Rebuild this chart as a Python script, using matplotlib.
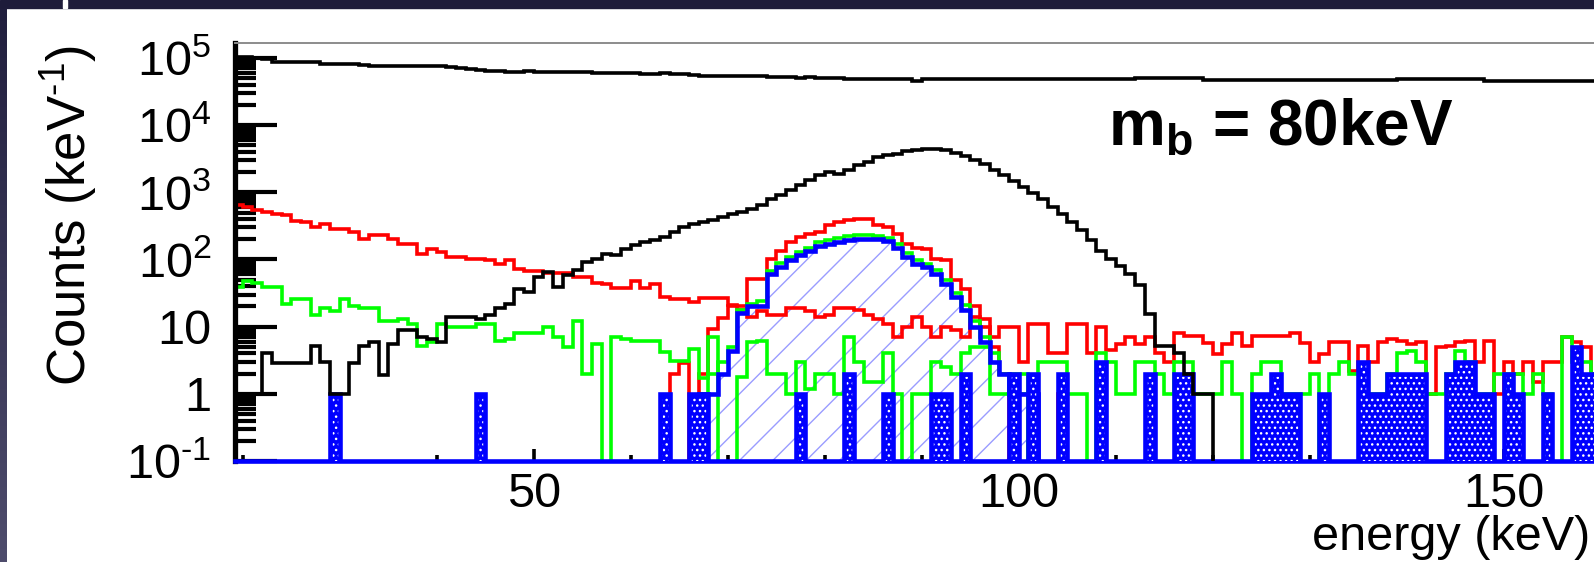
import numpy as np
import matplotlib.pyplot as plt
from matplotlib.patches import Rectangle
from matplotlib.colors import LinearSegmentedColormap
from matplotlib.ticker import FixedLocator, FuncFormatter, NullFormatter

plt.rcParams['font.family'] = ['Liberation Sans', 'DejaVu Sans']
plt.rcParams['mathtext.fontset'] = 'custom'
plt.rcParams['mathtext.rm'] = 'Liberation Sans'
plt.rcParams['mathtext.it'] = 'Liberation Sans:italic'
plt.rcParams['mathtext.bf'] = 'Liberation Sans:bold'
plt.rcParams['hatch.linewidth'] = 1.0

# histogram bins: 1 keV wide, lower edges 19..159
first_bin = 19
n_bins = 141

total = [104000, 103000, 101000, 98000,
         88000, 88000, 87000, 88000, 86000,
         82000, 81000, 81000, 80000, 79000,
         77000, 76000, 76000, 76000, 75000, 76000, 76000, 75000, 74000,
         72000, 68000, 66000, 64000, 63000,
         62000, 62000, 63000, 62000, 61000, 62000, 62000, 61000, 61000, 60000, 60000, 60000,
         59000, 59000, 58000, 58000, 59000, 58000, 57000,
         55000, 54000, 54000, 54000, 53000, 54000, 53000, 53000,
         52000, 52000, 52000, 51000, 52000, 51000, 50000,
         51000,
         48000, 48000, 48000, 48000, 48000, 48000, 48000, 46000, 48000, 48000,
         48000, 48000, 48000, 48000, 48000, 48000, 48000, 48000, 48000, 48000,
         48000, 48000, 48000, 48000, 48000, 48000, 48000, 48000, 48000, 48000,
         50000, 50000, 50000, 50000, 50000, 50000, 50000,
         47000, 47000, 47000, 47000, 47000, 47000, 47000, 47000, 47000, 47000,
         47000, 47000, 47000, 47000, 47000, 47000, 47000, 47000, 47000, 47000,
         49000, 49000, 49000, 49000, 49000, 49000, 49000, 49000, 49000,
         46000, 46000, 46000, 46000, 46000, 46000, 46000, 46000, 46000, 46000, 46000, 46000]

signal = [1, 1, 1, 4, 2.9, 2.9, 2.9, 2.9, 5.2, 3, 1, 1, 2.9, 5.2, 6, 1.9, 5.5, 9, 9, 7,
          6.5, 6, 14, 14, 14, 13, 15, 19, 22, 36, 33,
          54, 65, 39, 58, 69, 91, 102, 122, 115, 144, 162, 182, 192, 215, 256, 304,
          341, 361, 383, 429, 481, 510, 570, 640, 806, 900, 1070, 1270, 1510, 1790, 2000,
          1900, 2180, 2530, 2870, 3310, 3560, 3770, 4090, 4330, 4480, 4430, 4230, 3870,
          3490, 3010, 2630, 2170, 1790, 1480, 1210, 990, 806, 605, 481, 361, 272, 192,
          136, 102, 80, 61, 41, 15.5, 5.2, 5.2, 4, 2, 1, 1] + [0] * 40

red_bg = [640, 600, 540, 508, 480, 454, 380, 361, 304, 340, 287, 287, 256, 203, 228, 228,
          203, 171, 171, 122, 144, 129, 108, 108, 102, 102, 97, 86, 97, 73, 68,
          68, 62, 62, 62, 55, 55, 45, 43, 38, 38, 48, 37, 43, 28, 26, 26, 23, 27, 27, 27,
          21, 18, 14, 17, 15, 15, 19, 19, 17, 14,
          15, 19, 19, 18, 15, 13, 11, 7, 10, 14, 10, 7, 10, 9, 7, 14, 13, 7, 10, 10, 3,
          11, 11, 4, 4, 11, 11, 4, 10, 4.5, 5.5, 7,
          5.5, 7, 4, 3, 8, 7.3, 7.3, 5.8, 3.9, 5.5, 8, 5.2, 7.3, 7.3, 7.3, 7.3, 8, 5.8,
          3, 3.9, 6, 6, 2.2, 5.2, 3, 6, 6.5, 6.2,
          5.5, 6, 1, 5, 5.2, 6, 6.2, 3, 6.2, 1, 3, 2, 3, 1.5, 3, 3, 7, 6, 5, 2]

green_bg = [39, 48, 45, 39, 39, 22, 26, 26, 15, 19, 17, 26, 20, 19, 19, 12, 12, 13, 11,
            5.2, 6, 11, 10, 10, 10, 11, 11, 6.2, 6.5, 8, 8,
            8, 10, 7, 5, 12, 2, 5.5, 0, 7, 6.6, 6.2, 6.2, 6.2, 4.2, 3.1, 3.1, 4.7, 1.7, 6.9,
            0, 0,
            1.8, 6, 6.2, 2, 2, 1, 3, 1.2, 2,
            2, 1, 7, 3, 1.5, 1.5, 4, 1, 0, 1, 1, 3, 2.5, 2, 4, 5, 5, 1, 1, 2, 2, 0,
            3, 3, 3, 1, 1, 0, 4, 3, 1, 1,
            3, 3, 2, 1, 3, 3, 1, 1, 1, 3, 1, 0, 2, 3, 3, 1, 1, 1, 2, 0, 2, 3, 2, 2,
            1, 1, 2, 4,
            4.4, 3, 1, 1, 2, 4.4, 3, 1, 1, 2, 2, 2, 1, 2, 1, 0, 7, 3, 3, 2]

# peak histograms, starting bin then counts
red_peak_start = 63
red_peak = [0, 2, 2.9, 0, 2, 9.3, 13.6, 20, 20, 52, 52, 100, 136, 183, 215, 242, 256, 323,
            360, 390, 403, 403, 330, 300, 242, 170, 150, 144, 100, 97, 49, 36, 20,
            10, 5, 2, 0, 0, 0, 0, 0, 1]

green_peak_start = 66
green_peak = [0, 1, 2, 3, 5, 18, 22, 24, 68, 88, 110, 130, 150, 180, 195, 210, 220,
              228, 228, 225, 210, 170, 125, 98, 87, 70, 50, 32, 21, 12, 7, 4, 2, 1, 1]

blue_peak_start = 66
blue_peak = [0, 1, 1, 2, 4.4, 16, 20, 20, 60, 77, 97, 115, 136, 160, 170, 185, 195, 204,
             204, 200, 190, 150, 110, 86, 77, 61, 43, 28, 18, 10, 6, 3, 2, 1, 1, 1]

blue_bar_bins = [29, 44, 63, 66, 67, 77, 82, 86, 91, 92, 94, 99, 101, 104, 108, 113,
                 116, 117, 124, 125, 126, 127, 128, 131, 135, 136, 137, 138, 139, 140,
                 141, 144, 145, 146, 147, 148, 150, 151, 154, 157, 158, 159]
blue_bar_counts = [1, 1, 1, 1, 1, 1, 2, 1, 1, 1, 2, 2, 2, 2, 3, 2,
                   2, 2, 1, 1, 2, 1, 1, 1, 3, 1, 1, 2, 2, 2,
                   2, 2, 3, 3, 1, 1, 2, 1, 1, 5, 2, 2]


def full(start, counts):
    arr = np.zeros(n_bins)
    arr[start - first_bin:start - first_bin + len(counts)] = counts
    return arr


edges = np.arange(first_bin, first_bin + n_bins + 1)
floor = 1e-3

red_peak_h = full(red_peak_start, red_peak)
green_peak_h = full(green_peak_start, green_peak)
blue_peak_h = full(blue_peak_start, blue_peak)
bars_h = np.zeros(n_bins)
bars_h[np.array(blue_bar_bins) - first_bin] = blue_bar_counts

fig = plt.figure(figsize=(15.94, 5.62), dpi=100)

# slide border around the crop
fig.patches.append(Rectangle((0, 1 - 8 / 562), 1, 8 / 562, transform=fig.transFigure,
                             color='#1e1c3a', zorder=0))
fig.patches.append(Rectangle((63 / 1594, 1 - 8 / 562), 4 / 1594, 8 / 562,
                             transform=fig.transFigure, color='white', zorder=1))
bax = fig.add_axes([0, 0, 7 / 1594, 1 - 8 / 562])
grad = np.linspace(0, 1, 256).reshape(-1, 1)
cm = LinearSegmentedColormap.from_list('edge', ['#211f3e', '#4e4c6c'])
bax.imshow(grad, aspect='auto', cmap=cm, extent=[0, 1, 0, 1])
bax.axis('off')

# the frame runs on past the right edge of the crop
px_per_kev = 9.7
xmin, xmax = 19.2, 200
ax = fig.add_axes([235 / 1594, 101 / 562, (xmax - xmin) * px_per_kev / 1594, 418 / 562])
ax.set_yscale('log')
ax.set_xlim(xmin, xmax)
ax.set_ylim(0.1, 1.67e5)

lw = 2.6
blw = 3.3
# signal hatch
ax.bar(edges[:-1], np.clip(blue_peak_h, floor, None), width=1, align='edge', bottom=floor,
       facecolor='none', edgecolor='#9a9cff', hatch='/', linewidth=0, zorder=1)

ax.stairs(np.clip(red_bg, floor, None), edges, baseline=None, color='#ff0000', lw=lw, zorder=2)
ax.stairs(np.clip(red_peak_h, floor, None), edges, baseline=None, color='#ff0000', lw=lw, zorder=2)
ax.stairs(np.clip(green_bg, floor, None), edges, baseline=None, color='#00ff00', lw=lw, zorder=2.1)
ax.stairs(np.clip(green_peak_h, floor, None), edges, baseline=None, color='#00ff00', lw=lw, zorder=2.1)
ax.stairs(np.clip(blue_peak_h, floor, None), edges, baseline=None, color='#0000ff', lw=blw, zorder=3)

ax.bar(edges[:-1], np.clip(bars_h, floor, None), width=1, align='edge', bottom=floor,
       facecolor='#0000ff', edgecolor='white', hatch='...', linewidth=0, zorder=3.4)
ax.stairs(np.clip(bars_h, floor, None), edges, baseline=None, color='#0000ff', lw=blw, zorder=3.5)

ax.stairs(np.clip(signal, floor, None), edges, baseline=None, color='black', lw=lw, zorder=4)
ax.stairs(np.clip(total, floor, None), edges, baseline=None, color='black', lw=lw, zorder=4)

# axes styling
ax.spines['right'].set_visible(False)
ax.spines['top'].set_color('#8c8c8c')
ax.spines['top'].set_linewidth(1.4)
ax.spines['left'].set_linewidth(3.8)
ax.spines['bottom'].set_color('#0000ff')
ax.spines['bottom'].set_linewidth(3.3)

ax.xaxis.set_major_locator(FixedLocator([50, 100, 150]))
ax.xaxis.set_minor_locator(FixedLocator(np.arange(20, 201, 10)))
decades = [0.1, 1, 10, 100, 1e3, 1e4, 1e5]
ax.yaxis.set_major_locator(FixedLocator(decades))
ax.yaxis.set_minor_locator(FixedLocator([m * d for d in decades[:-1] for m in range(2, 10)]
                                        + [2e5]))
ax.yaxis.set_minor_formatter(NullFormatter())
hy = '\u2010'
ylabels = {0.1: r'$10^{' + hy + '1}$', 1: '1', 10: '10', 100: r'$10^{2}$',
           1e3: r'$10^{3}$', 1e4: r'$10^{4}$', 1e5: r'$10^{5}$'}
ax.yaxis.set_major_formatter(FuncFormatter(lambda v, p: ylabels.get(v, '')))

ax.tick_params(axis='y', which='major', direction='in', length=30, width=3,
               labelsize=35, pad=17, right=False)
ax.tick_params(axis='y', which='minor', direction='in', length=15, width=3, right=False)
ax.tick_params(axis='x', which='major', direction='in', length=9, width=2.6,
               labelsize=35, pad=8, top=False)
ax.tick_params(axis='x', which='minor', direction='in', length=4, width=2.6, top=False)

fig.text(69 / 1594, 1 - 45 / 562, 'Counts (keV$^{' + hy + '1}$)', rotation=90, ha='center',
         va='top', fontsize=38)
fig.text(1590 / 1594, (562 - 550) / 562, 'energy (keV)', ha='right', va='baseline',
         fontsize=35)
fig.text(1108 / 1594, (562 - 145) / 562, r'$\mathbf{m}_{\mathbf{b}}$ = 80keV',
         ha='left', va='baseline', fontsize=46, fontweight='bold')

fig.savefig('out.png', dpi=100)
